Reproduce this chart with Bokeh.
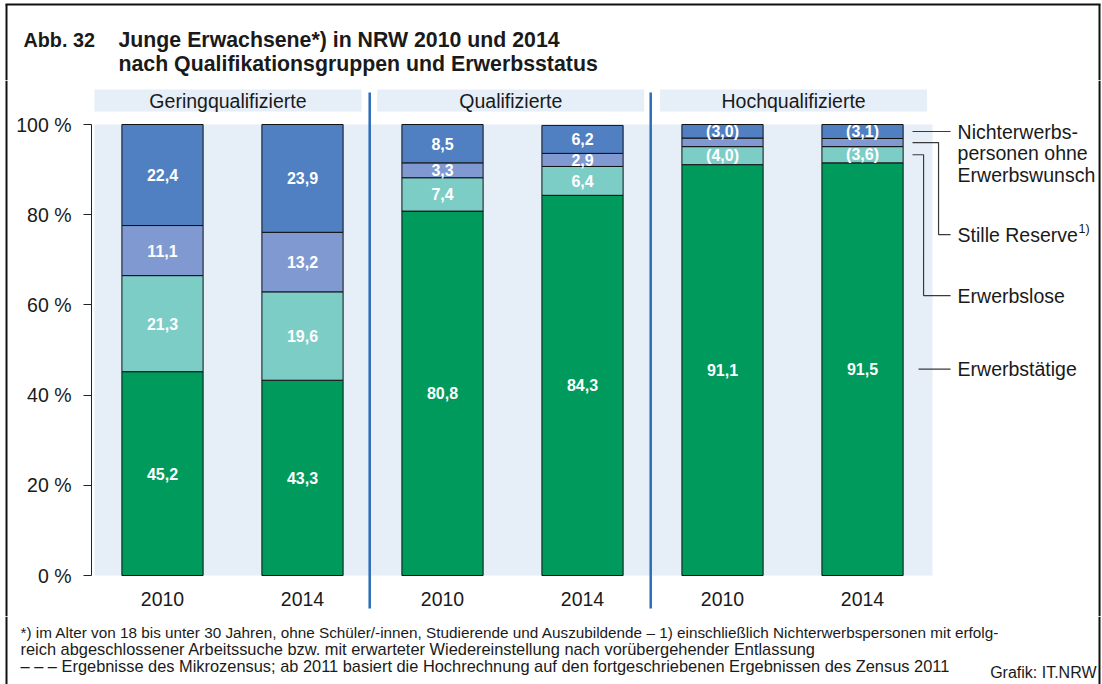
from bokeh.plotting import figure
from bokeh.layouts import column, row
from bokeh.models import ColumnDataSource, Range1d, FixedTicker, Span
from bokeh.embed import file_html
from bokeh.resources import INLINE
from bokeh.core.properties import value

# ---------------- data ----------------
groups = ["Geringqualifizierte", "Qualifizierte", "Hochqualifizierte"]
years = ["2010", "2014"]
erwerbstaetige = [45.2, 43.3, 80.8, 84.3, 91.1, 91.5]
erwerbslose = [21.3, 19.6, 7.4, 6.4, 4.0, 3.6]
stille_reserve = [11.1, 13.2, 3.3, 2.9, 1.9, 1.8]
nichterwerbspersonen = [22.4, 23.9, 8.5, 6.2, 3.0, 3.1]
series_keys = ["erwerbstaetige", "erwerbslose", "stille_reserve", "nichterwerbspersonen"]
series_labels = ["Erwerbstätige", "Erwerbslose", "Stille Reserve", "Nichterwerbs-\npersonen ohne\nErwerbswunsch"]
colors = ["#009a5c", "#7dcdc7", "#8099d0", "#507fc2"]
y_ticks = [0, 20, 40, 60, 80, 100]
y_tick_labels = ["0 %", "20 %", "40 %", "60 %", "80 %", "100 %"]
klammer_gruppe = "Hochqualifizierte"
klammer_grenze = 5.0
min_beschriftung = 2.5

title_nr = "Abb. 32"
title_lines = ["Junge Erwachsene*) in NRW 2010 und 2014",
               "nach Qualifikationsgruppen und Erwerbsstatus"]
footnotes = [
    "*) im Alter von 18 bis unter 30 Jahren, ohne Schüler/-innen, Studierende und Auszubildende – 1) einschließlich Nichterwerbspersonen mit erfolg-",
    "reich abgeschlossener Arbeitssuche bzw. mit erwarteter Wiedereinstellung nach vorübergehender Entlassung",
    "– – – Ergebnisse des Mikrozensus; ab 2011 basiert die Hochrechnung auf den fortgeschriebenen Ergebnissen des Zensus 2011",
]
footnote_sizes = ["15.3px", "16.4px", "16.4px"]
source_text = "Grafik: IT.NRW"

FONT = "Liberation Sans"
TXT = "#1a1a1a"
PANEL = "#e6eef8"
SEP = "#2a6db8"
BORDER = "#111111"

W, H = 1102, 684
TOP_H, FOOT_H = 80, 68
MID_H = H - TOP_H - FOOT_H
STRIP_W = 8


def blank(width, height, x_range, y_range):
    f = figure(width=width, height=height, output_backend="svg", toolbar_location=None,
               x_range=x_range, y_range=y_range, x_axis_location=None, y_axis_location=None,
               title_location=None, min_border_left=0, min_border_right=0,
               min_border_top=0, min_border_bottom=0, background_fill_color="white",
               border_fill_color="white", outline_line_color=None)
    f.xgrid.visible = False
    f.ygrid.visible = False
    return f


# ---------------- title strip ----------------
pt = blank(W, TOP_H, Range1d(0, W), Range1d(TOP_H, 0))
pt.segment(x0=[5, 6, 1099], x1=[1100, 6, 1099], y0=[4, 4, 4], y1=[4, TOP_H, TOP_H],
           line_color=BORDER, line_width=2)
pt.text(x=[23], y=[39], text=[title_nr], text_font=value(FONT), text_font_size="19.8px",
        text_font_style="bold", text_color=TXT, text_baseline="middle", text_align="left")
pt.text(x=[118, 118], y=[39, 63], text=title_lines, text_font=value(FONT),
        text_font_size="21.3px", text_font_style="bold", text_color=TXT,
        text_baseline="middle", text_align="left")

# ---------------- left border strip ----------------
ps = blank(STRIP_W, MID_H, Range1d(0, STRIP_W), Range1d(MID_H, 0))
ps.segment(x0=[6], x1=[6], y0=[0], y1=[MID_H], line_color=BORDER, line_width=2)

# ---------------- chart ----------------
n = len(groups) * len(years)
xs = list(range(n))
bar_groups = [g for g in groups for _ in years]
bar_years = [y for _ in groups for y in years]

p = figure(width=W - STRIP_W, height=MID_H, output_backend="svg", toolbar_location=None,
           x_range=Range1d(-0.5071, 6.714), y_range=Range1d(-9.09, 109.76),
           x_axis_location=None, y_axis_location="left", title_location=None,
           min_border_left=83, min_border_right=0, min_border_top=0, min_border_bottom=0,
           background_fill_color="white", border_fill_color="white", outline_line_color=None)
p.xgrid.visible = False
p.ygrid.visible = False

ax = p.yaxis[0]
ax.ticker = FixedTicker(ticks=y_ticks)
ax.major_label_overrides = dict(zip(y_ticks, y_tick_labels))
ax.bounds = (0, 100)
ax.minor_tick_line_color = None
ax.major_tick_out = 8
ax.major_tick_in = 0
ax.major_label_standoff = 12
ax.axis_line_color = "#222222"
ax.major_tick_line_color = "#222222"
ax.major_label_text_font = FONT
ax.major_label_text_font_size = "19.5px"
ax.major_label_text_color = TXT

# right border
p.add_layout(Span(location=6.693, dimension="height", line_color=BORDER, line_width=2))

# background panel
p.quad(left=-0.486, right=5.5, bottom=0, top=100, fill_color=PANEL, line_color=None)

# group header bands and texts
gi = list(range(len(groups)))
h_left = [2 * g - 0.486 + 0.02 * g for g in gi]
h_right = [l + 1.907 for l in h_left]
p.quad(left=h_left, right=h_right, bottom=102.88, top=107.76, fill_color=PANEL, line_color=None)
p.text(x=[(l + r) / 2 for l, r in zip(h_left, h_right)], y=[105.3] * len(groups), text=groups,
       text_font=value(FONT), text_font_size="19.5px", text_color=TXT,
       text_align="center", text_baseline="middle")

# separators
sep_x = [2 * g + 1.48 + 0.007 * g for g in gi[:-1]]
p.segment(x0=sep_x, x1=sep_x, y0=[-7.3] * len(sep_x), y1=[107.1] * len(sep_x),
          line_color=SEP, line_width=2.5)

# stacked bars
src = ColumnDataSource(dict(x=xs, erwerbstaetige=erwerbstaetige, erwerbslose=erwerbslose,
                            stille_reserve=stille_reserve, nichterwerbspersonen=nichterwerbspersonen))
p.vbar_stack(series_keys, x="x", width=0.58, fill_color=colors, line_color="#111111",
             line_width=1, source=src)

# value labels
cols = [erwerbstaetige, erwerbslose, stille_reserve, nichterwerbspersonen]
lx, ly, lt = [], [], []
for i in xs:
    base = 0.0
    for col in cols:
        v = col[i]
        if v >= min_beschriftung:
            t = f"{v:.1f}".replace(".", ",")
            if bar_groups[i] == klammer_gruppe and v < klammer_grenze:
                t = f"({t})"
            lx.append(i)
            ly.append(base + v / 2)
            lt.append(t)
        base += v
p.text(x=lx, y=ly, text=lt, text_font=value(FONT), text_font_size="16px",
       text_font_style="bold", text_color="white", text_align="center", text_baseline="middle")

# year labels
p.text(x=xs, y=[-5.32] * n, text=bar_years, text_font=value(FONT), text_font_size="19.5px",
       text_color=TXT, text_align="center", text_baseline="middle")

# right-hand legend with leader lines (anchored to last bar)
last = n - 1
c = [col[last] for col in cols]
centers = [sum(c[:k]) + c[k] / 2 for k in range(4)]
x_start = 5.357
x_end = 5.629
label_y = [centers[0], 62.08, 75.6, centers[3]]
knee_x = [None, 5.436, 5.543, None]
mx, my = [], []
for k in range(4):
    if knee_x[k] is None:
        sx = 5.4 if k == 0 else x_start
        mx.append([sx, x_end])
        my.append([centers[k], centers[k]])
    else:
        mx.append([x_start, knee_x[k], knee_x[k], x_end])
        my.append([centers[k], centers[k], label_y[k], label_y[k]])
p.multi_line(xs=mx, ys=my, line_color="#3a3a3a", line_width=1.2)

lab_x = 5.679
for k in range(3):
    p.text(x=[lab_x], y=[label_y[k]], text=[series_labels[k]], text_font=value(FONT),
           text_font_size="19.5px", text_color=TXT, text_align="left", text_baseline="middle")
for j, line in enumerate(series_labels[3].split("\n")):
    p.text(x=[lab_x], y=[label_y[3]], y_offset=21.5 * j, text=[line], text_font=value(FONT),
           text_font_size="19.5px", text_color=TXT, text_align="left", text_baseline="middle")
p.text(x=[lab_x], y=[label_y[2]], x_offset=121, y_offset=-6, text=["1)"], text_font=value(FONT),
       text_font_size="12.5px", text_color=TXT, text_align="left", text_baseline="middle")

# ---------------- footnotes ----------------
y0 = H - FOOT_H
pf = blank(W, FOOT_H, Range1d(0, W), Range1d(H, y0))
pf.segment(x0=[6, 1099], x1=[6, 1099], y0=[y0, y0], y1=[H, H], line_color=BORDER, line_width=2)
for line, fy, fs in zip(footnotes, [632, 648, 665], footnote_sizes):
    pf.text(x=[20], y=[fy], text=[line], text_font=value(FONT), text_font_size=fs,
            text_color=TXT, text_align="left", text_baseline="middle")
pf.text(x=[1096], y=[672], text=[source_text], text_font=value(FONT), text_font_size="16px",
        text_color=TXT, text_align="right", text_baseline="middle")

layout = column(pt, row(ps, p), pf)
open("out.html", "w").write(file_html(layout, INLINE))
